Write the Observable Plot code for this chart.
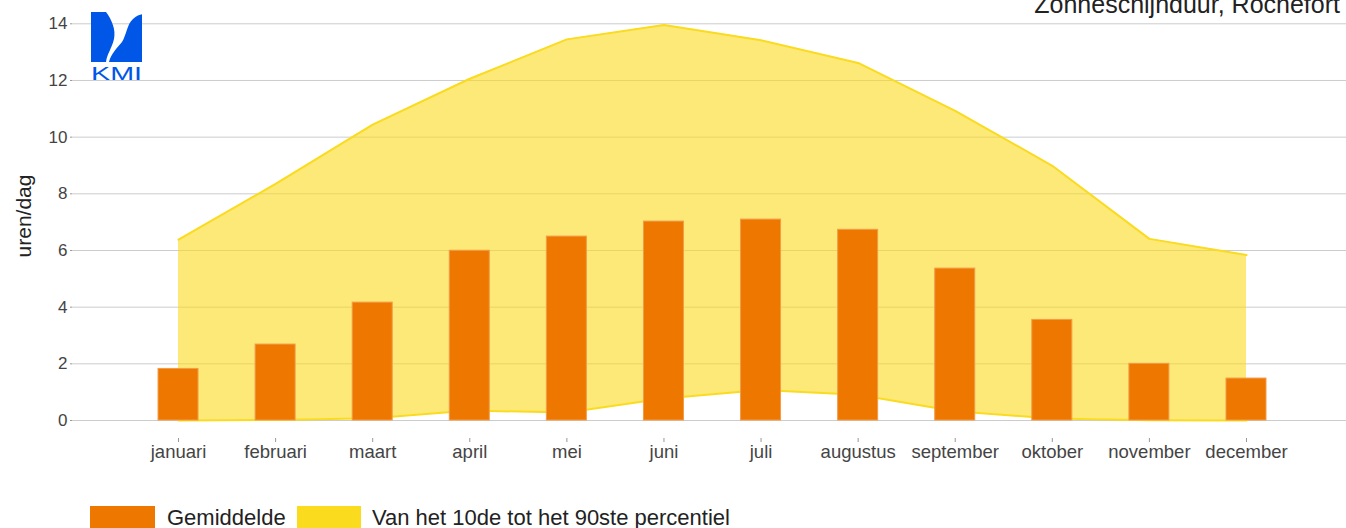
<!DOCTYPE html>
<html>
<head>
<meta charset="utf-8">
<script src="https://cdn.jsdelivr.net/npm/d3@7"></script>
<script src="https://cdn.jsdelivr.net/npm/@observablehq/plot@0.6"></script>
<style>
html, body { margin: 0; padding: 0; background: #fff; overflow: hidden; }
body { width: 1346px; height: 528px; position: relative; font-family: "Liberation Sans", Arial, sans-serif; }
#chart { position: absolute; left: 0; top: 0; }
#title { position: absolute; right: 6px; top: -8px; font-size: 25px; line-height: 25px; color: #222; white-space: nowrap; }
#logo { position: absolute; left: 91px; top: 12px; }
.sw { position: absolute; top: 506px; height: 30px; }
.lt { position: absolute; top: 507px; font-size: 22px; line-height: 22px; color: #222; white-space: nowrap; }
svg [aria-label="x-axis tick"] path { stroke: #999; }
svg [aria-label="y-axis tick"] path { stroke: #999; }
</style>
</head>
<body>
<div id="chart"></div>
<div id="title">Zonneschijnduur, Rochefort</div>
<svg id="logo" width="53" height="70" viewBox="0 0 53 70">
  <path d="M0,0 L15,0 C21,8 25,18 23,27 C21,36 16,42 15,50 L0,50 Z" fill="#0057E7"/>
  <path d="M18,50 C20,42 26,36 31,30 C35,24 36,12 42,7 C45,4 49,2.5 51,2.3 L51,50 Z" fill="#0057E7"/>
  <text x="0" y="67.5" font-size="18.5" fill="#0057E7" textLength="51" lengthAdjust="spacingAndGlyphs" font-family="Liberation Sans, Arial, sans-serif">KMI</text>
</svg>
<div class="sw" style="left:90px;width:65px;background:#EE7700"></div>
<div class="lt" style="left:167px">Gemiddelde</div>
<div class="sw" style="left:297px;width:64px;background:#FADB1E"></div>
<div class="lt" style="left:372px">Van het 10de tot het 90ste percentiel</div>
<script>
const months = ["januari", "februari", "maart", "april", "mei", "juni", "juli", "augustus", "september", "oktober", "november", "december"];
const gemiddelde = [1.82, 2.68, 4.16, 5.99, 6.49, 7.02, 7.09, 6.73, 5.36, 3.55, 2.00, 1.48];
const p90 = [6.38, 8.35, 10.44, 12.06, 13.45, 13.96, 13.42, 12.62, 10.93, 8.99, 6.41, 5.84];
const p10 = [0.00, 0.02, 0.08, 0.35, 0.28, 0.78, 1.08, 0.91, 0.33, 0.07, 0.01, 0.00];
const yTicks = [0, 2, 4, 6, 8, 10, 12, 14];
const yLabel = "uren/dag";

const idx = months.map((_, i) => i);
const half = 0.206;

const chart = Plot.plot({
  width: 1346,
  height: 470,
  marginLeft: 72,
  marginRight: 0,
  marginTop: 23,
  marginBottom: 32,
  style: { fontFamily: "Liberation Sans, Arial, sans-serif", background: "white", overflow: "visible" },
  x: { type: "linear", domain: [-1.092, 12.03], axis: null },
  y: { domain: [0, 14], range: [420, 23.3], axis: null },
  marks: [
    Plot.gridY(yTicks, { stroke: "#cccccc", strokeOpacity: 1 }),
    Plot.areaY(idx, { x: i => i, y1: i => p10[i], y2: i => p90[i], fill: "#FADB1E", fillOpacity: 0.6 }),
    Plot.lineY(idx, { x: i => i, y: i => p90[i], stroke: "#FADB1E", strokeWidth: 2 }),
    Plot.lineY(idx, { x: i => i, y: i => p10[i], stroke: "#FADB1E", strokeWidth: 2 }),
    Plot.rectY(idx, { x1: i => i - half, x2: i => i + half, y1: 0, y2: i => gemiddelde[i], fill: "#EE7700", stroke: "#F29B4A", strokeWidth: 1 }),
    Plot.axisY(yTicks, { tickSize: 2, tickPadding: 3, fontSize: 17, color: "#444", label: null }),
    Plot.axisX(idx, { tickFormat: i => months[i], tickSize: 4, tickPadding: 2, fontSize: 18.5, color: "#444", label: null }),
    Plot.text([yLabel], { frameAnchor: "left", textAnchor: "middle", lineAnchor: "middle", rotate: -90, dx: -48, dy: -15, fontSize: 21, fill: "#222" })
  ]
});
document.getElementById("chart").appendChild(chart);
</script>
</body>
</html>
